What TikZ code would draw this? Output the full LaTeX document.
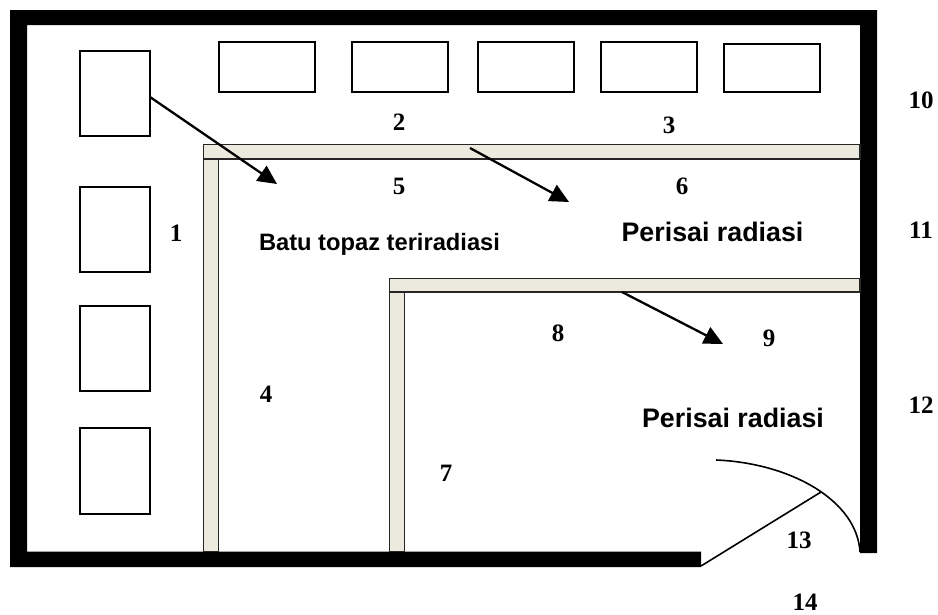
\documentclass[tikz,border=0pt]{standalone}
\usepackage{fontspec}
\setmainfont{Liberation Serif}
\setsansfont{Liberation Sans}
\usetikzlibrary{arrows.meta}
\definecolor{beige}{RGB}{236,233,222}
\tikzset{
  wall/.style={fill=black,draw=none},
  inner wall/.style={fill=beige,draw=black!85,line width=1.5pt},
  cabinet/.style={draw=black,line width=1.5pt,fill=white,inner sep=0pt,outer sep=0pt,anchor=north west},
  num/.style={font=\rmfamily\bfseries\fontsize{25}{28}\selectfont,inner sep=0pt},
  lbl/.style={font=\sffamily\bfseries\fontsize{26.8}{30}\selectfont,inner sep=0pt},
  pointer/.style={line width=2.3pt,-{Triangle[length=19pt,width=18pt]},shorten >=0pt},
}
\begin{document}
\begin{tikzpicture}[x=1pt,y=-1pt]
\useasboundingbox (0,0) rectangle (938,614);
% outer walls
\fill[wall] (10,10) -- (877,10) -- (877,553) -- (860,553) -- (860,25) -- (27,25) -- (27,551.5) -- (701,551.5) -- (701,567) -- (10,567) -- cycle;
% inner walls
\draw[inner wall] (203.5,159) rectangle (218.5,551.5);
\draw[inner wall] (203.5,144.5) rectangle (860,159);
\draw[inner wall] (389.5,292) rectangle (404.5,551.5);
\draw[inner wall] (389.5,278.5) rectangle (860,292);
% cabinets
\node[cabinet,minimum width=70pt,minimum height=85pt] (c1) at (80,51) {};
\node[cabinet,minimum width=70pt,minimum height=85pt] (c2) at (80,187) {};
\node[cabinet,minimum width=70pt,minimum height=85pt] (c3) at (80,306) {};
\node[cabinet,minimum width=70pt,minimum height=86pt] (c4) at (80,428) {};
\node[cabinet,minimum width=96pt,minimum height=50pt] (t1) at (219,42) {};
\node[cabinet,minimum width=96pt,minimum height=50pt] (t2) at (352,42) {};
\node[cabinet,minimum width=96pt,minimum height=50pt] (t3) at (478,42) {};
\node[cabinet,minimum width=96pt,minimum height=50pt] (t4) at (601,42) {};
\node[cabinet,minimum width=96pt,minimum height=48pt] (t5) at (724,44) {};
% arrows
\coordinate (a1s) at (150,97);
\coordinate (a1e) at (277,184);
\coordinate (a2s) at (470,148);
\coordinate (a2e) at (569,202);
\coordinate (a3s) at (622,292);
\coordinate (a3e) at (723,344);
\draw[pointer] (a1s) -- (a1e);
\draw[pointer] (a2s) -- (a2e);
\draw[pointer] (a3s) -- (a3e);
% door
\coordinate (d0) at (701,566);
\coordinate (d1) at (821,492);
\coordinate (d2) at (716,460);
\coordinate (d3) at (860,552);
\draw[line width=1.6pt] (d0) -- (d1);
\draw[line width=1.6pt] (d2) .. controls (790,463) and (857,500) .. (d3);
% numbers
\node[num] (n1) at (176,233) {1};
\node[num] (n2) at (399,122) {2};
\node[num] (n3) at (669,125) {3};
\node[num] (n4) at (266,394) {4};
\node[num] (n5) at (399,186) {5};
\node[num] (n6) at (682,186) {6};
\node[num] (n7) at (446,473) {7};
\node[num] (n8) at (558,333) {8};
\node[num] (n9) at (769,338) {9};
\node[num] (n10) at (921,100) {10};
\node[num] (n11) at (921,230) {11};
\node[num] (n12) at (921,405) {12};
\node[num] (n13) at (799,540) {13};
\node[num] (n14) at (805,602) {14};
% labels
\node[lbl,font=\sffamily\bfseries\fontsize{23.7}{27}\selectfont] (l1) at (379.5,244) {Batu topaz teriradiasi};
\node[lbl] (l2) at (712.5,232) {Perisai radiasi};
\node[lbl] (l3) at (733,418) {Perisai radiasi};
\end{tikzpicture}
\end{document}
